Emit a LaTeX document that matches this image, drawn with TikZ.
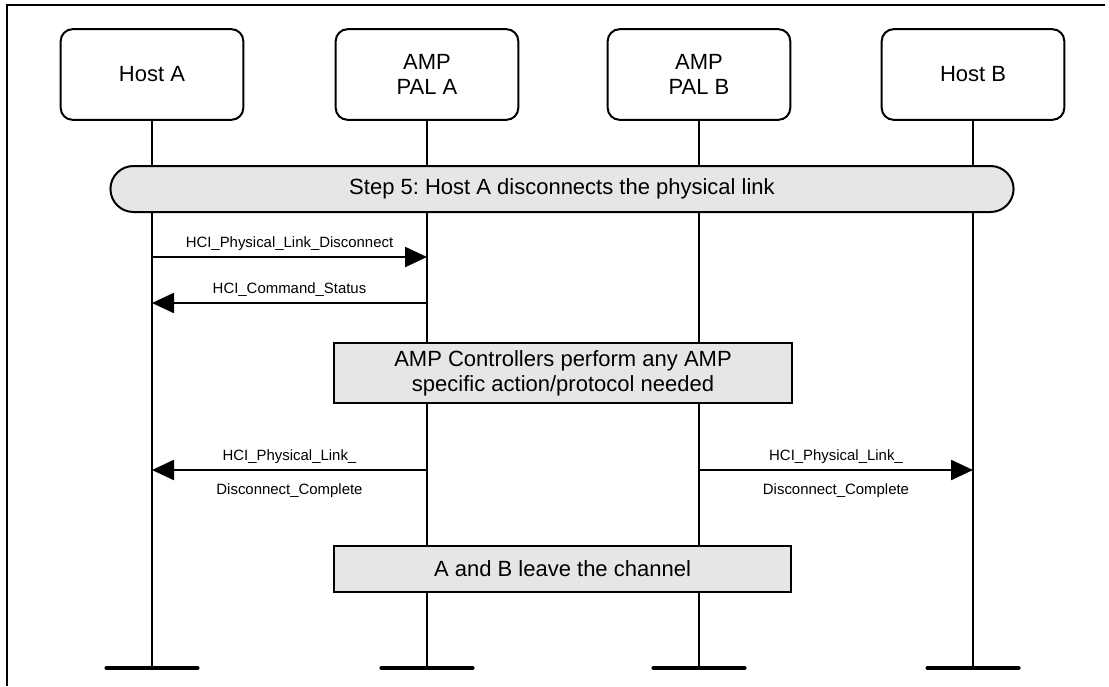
\documentclass[tikz,border=0pt]{standalone}
\usepackage{fontspec}
\setmainfont{Liberation Sans}
\frenchspacing
\usetikzlibrary{arrows.meta,shapes.misc}
\definecolor{boxgray}{HTML}{E6E6E6}
\tikzset{
  actor/.style={draw, line width=1.5pt, rounded corners=9pt, fill=white,
    minimum width=137pt, minimum height=68pt, align=center,
    font=\fontsize{16.5}{18.5}\selectfont},
  banner/.style={draw, line width=1.5pt, rounded rectangle, fill=boxgray,
    minimum width=684pt, minimum height=34.5pt,
    font=\fontsize{16.5}{18.5}\selectfont},
  actbox/.style={draw, line width=1.5pt, fill=boxgray, minimum width=343pt,
    align=center, font=\fontsize{16.5}{18.75}\selectfont},
  life/.style={line width=1.5pt},
  msg/.style={line width=1.8pt, -{Triangle[length=16.5pt,width=15pt]}},
  lbl/.style={font=\fontsize{11.2}{12.5}\selectfont, inner sep=0pt},
  endbar/.style={line width=3.4pt, line cap=round},
  frame/.style={line width=1.6pt}
}
\begin{document}
\begin{tikzpicture}[x=0.75pt,y=-0.75pt]
\useasboundingbox (0,0) rectangle (1109,686);
% frame
\coordinate (fTL) at (7,5);
\coordinate (fTR) at (1105,5);
\coordinate (fBL) at (7,686);
\draw[frame] (fTR) -- (fTL) -- (fBL);
% actors
\node[actor] (hostA) at (152,74.5) {Host A};
\node[actor] (palA) at (427,74.5) {AMP\\PAL A};
\node[actor] (palB) at (699,74.5) {AMP\\PAL B};
\node[actor] (hostB) at (973,74.5) {Host B};
% lifeline ends
\coordinate (endrow) at (0,668);
\foreach \n in {hostA,palA,palB,hostB}{
  \coordinate (\n-end) at (\n |- endrow);
  \draw[life] (\n.south) -- (\n-end);
  \draw[endbar] ([xshift=-34pt]\n-end) -- ([xshift=34pt]\n-end);
}
% banner
\node[banner] (step) at (562,189) {Step 5: Host A disconnects the physical link};
% messages
\coordinate (r1) at (0,257);
\coordinate (r2) at (0,303);
\coordinate (r3) at (0,470);
\draw[msg] (hostA |- r1) -- (palA |- r1)
  node[lbl, midway, above=4.2pt] (m1) {HCI\_Physical\_Link\_Disconnect};
\draw[msg] (palA |- r2) -- (hostA |- r2)
  node[lbl, midway, above=4.2pt] (m2) {HCI\_Command\_Status};
\node[actbox, minimum height=45pt] (ctrl) at (563,373)
  {AMP Controllers perform any AMP\\specific action/protocol needed};
\draw[msg] (palA |- r3) -- (hostA |- r3)
  node[lbl, midway, above=4.2pt] (m3a) {HCI\_Physical\_Link\_}
  node[lbl, midway, below=9.2pt] (m3b) {Disconnect\_Complete};
\draw[msg] (palB |- r3) -- (hostB |- r3)
  node[lbl, midway, above=4.2pt] (m4a) {HCI\_Physical\_Link\_}
  node[lbl, midway, below=9.2pt] (m4b) {Disconnect\_Complete};
\node[actbox, minimum height=34.5pt] (leave) at (562.5,569) {A and B leave the channel};
\end{tikzpicture}
\end{document}
